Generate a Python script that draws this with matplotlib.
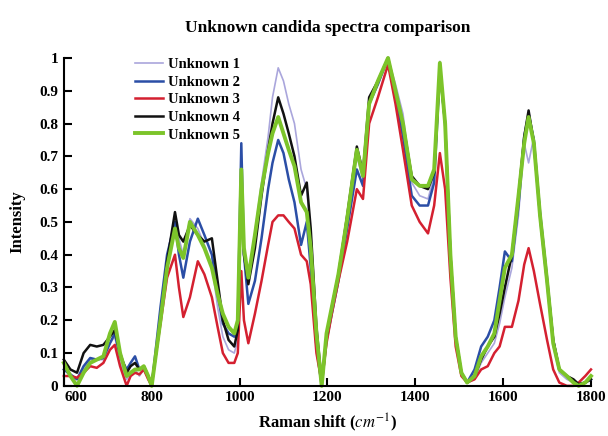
import matplotlib
matplotlib.use('Agg')
import matplotlib.pyplot as plt
import matplotlib.transforms as mtransforms

plt.rcParams['font.family'] = ['Liberation Serif', 'DejaVu Serif']
plt.rcParams['mathtext.fontset'] = 'stix'

# Raman shift (cm-1)
shift = [600, 615, 630, 645, 660, 675, 690, 705, 716, 728,
         743, 752, 762, 772, 782, 792, 800, 810, 820, 835,
         853, 862, 872, 887, 905, 920, 937, 950, 962, 975,
         988, 996, 1004, 1010, 1020, 1035, 1050, 1065, 1075, 1088,
         1100, 1112, 1125, 1140, 1153, 1162, 1175, 1187, 1198, 1210,
         1225, 1245, 1267, 1281, 1295, 1315, 1338, 1355, 1372, 1392,
         1410, 1429, 1443, 1456, 1468, 1480, 1492, 1505, 1518, 1535,
         1550, 1565, 1580, 1592, 1604, 1620, 1635, 1648, 1658, 1670,
         1684, 1700, 1714, 1728, 1745, 1760, 1772, 1787, 1800]

unknown1 = [0.05, 0.03, 0.02, 0.05, 0.08, 0.08, 0.08, 0.13, 0.15, 0.07,
            0.02, 0.04, 0.05, 0.03, 0.05, 0.02, 0.0, 0.09, 0.20, 0.37,
            0.50, 0.45, 0.40, 0.51, 0.48, 0.43, 0.37, 0.24, 0.15, 0.11,
            0.10, 0.14, 0.60, 0.40, 0.33, 0.47, 0.62, 0.76, 0.88, 0.97,
            0.93, 0.86, 0.80, 0.66, 0.60, 0.46, 0.18, 0.01, 0.15, 0.24,
            0.34, 0.51, 0.70, 0.63, 0.86, 0.92, 1.0, 0.92, 0.83, 0.62,
            0.58, 0.57, 0.64, 0.99, 0.80, 0.40, 0.15, 0.04, 0.01, 0.02,
            0.07, 0.10, 0.13, 0.19, 0.27, 0.36, 0.52, 0.74, 0.68, 0.76,
            0.50, 0.30, 0.12, 0.04, 0.02, 0.01, 0.0, 0.01, 0.03]

unknown2 = [0.05, 0.035, 0.02, 0.06, 0.085, 0.08, 0.085, 0.13, 0.16, 0.09,
            0.05, 0.07, 0.09, 0.05, 0.06, 0.03, 0.0, 0.12, 0.24, 0.40,
            0.50, 0.40, 0.33, 0.44, 0.51, 0.46, 0.40, 0.28, 0.19, 0.16,
            0.15, 0.20, 0.74, 0.40, 0.25, 0.32, 0.45, 0.60, 0.68, 0.75,
            0.71, 0.63, 0.56, 0.43, 0.50, 0.36, 0.12, 0.0, 0.14, 0.22,
            0.32, 0.48, 0.66, 0.61, 0.86, 0.92, 1.0, 0.88, 0.76, 0.58,
            0.55, 0.55, 0.62, 0.96, 0.80, 0.40, 0.15, 0.04, 0.01, 0.05,
            0.12, 0.15, 0.20, 0.30, 0.41, 0.38, 0.55, 0.76, 0.83, 0.75,
            0.53, 0.33, 0.14, 0.05, 0.03, 0.015, 0.005, 0.01, 0.02]

unknown3 = [0.03, 0.03, 0.025, 0.04, 0.06, 0.055, 0.07, 0.11, 0.125, 0.06,
            0.0, 0.03, 0.04, 0.035, 0.05, 0.02, 0.0, 0.10, 0.19, 0.33,
            0.40, 0.30, 0.21, 0.27, 0.38, 0.34, 0.27, 0.18, 0.10, 0.07,
            0.07, 0.10, 0.35, 0.20, 0.13, 0.22, 0.32, 0.43, 0.50, 0.52,
            0.52, 0.50, 0.48, 0.40, 0.38, 0.31, 0.10, 0.01, 0.13, 0.22,
            0.32, 0.44, 0.60, 0.57, 0.80, 0.88, 0.98, 0.86, 0.72, 0.55,
            0.50, 0.465, 0.55, 0.71, 0.60, 0.33, 0.12, 0.03, 0.01, 0.02,
            0.05, 0.06, 0.10, 0.12, 0.18, 0.18, 0.26, 0.37, 0.42, 0.35,
            0.25, 0.14, 0.05, 0.01, 0.0, 0.0, 0.01, 0.03, 0.05]

unknown4 = [0.08, 0.05, 0.04, 0.10, 0.125, 0.12, 0.125, 0.15, 0.17, 0.10,
            0.04, 0.06, 0.07, 0.05, 0.06, 0.03, 0.005, 0.10, 0.20, 0.38,
            0.53, 0.46, 0.44, 0.49, 0.46, 0.44, 0.45, 0.32, 0.20, 0.14,
            0.12, 0.17, 0.62, 0.40, 0.31, 0.42, 0.58, 0.72, 0.80, 0.88,
            0.83, 0.77, 0.70, 0.58, 0.62, 0.48, 0.18, 0.01, 0.15, 0.24,
            0.34, 0.52, 0.73, 0.65, 0.88, 0.93, 1.0, 0.90, 0.80, 0.64,
            0.61, 0.60, 0.65, 0.97, 0.80, 0.40, 0.15, 0.04, 0.01, 0.03,
            0.08, 0.12, 0.15, 0.22, 0.30, 0.40, 0.58, 0.76, 0.84, 0.74,
            0.52, 0.32, 0.14, 0.05, 0.03, 0.02, 0.005, 0.01, 0.02]

unknown5 = [0.07, 0.03, 0.0, 0.04, 0.07, 0.08, 0.09, 0.16, 0.195, 0.10,
            0.03, 0.04, 0.05, 0.05, 0.06, 0.03, 0.0, 0.10, 0.20, 0.36,
            0.48, 0.42, 0.39, 0.50, 0.46, 0.42, 0.36, 0.28, 0.22, 0.18,
            0.16, 0.20, 0.66, 0.42, 0.33, 0.46, 0.60, 0.71, 0.77, 0.82,
            0.77, 0.72, 0.67, 0.56, 0.53, 0.42, 0.16, 0.0, 0.16, 0.24,
            0.34, 0.51, 0.72, 0.64, 0.86, 0.93, 1.0, 0.90, 0.80, 0.63,
            0.61, 0.61, 0.66, 0.985, 0.80, 0.40, 0.15, 0.04, 0.01, 0.03,
            0.09, 0.12, 0.16, 0.26, 0.36, 0.40, 0.58, 0.74, 0.82, 0.74,
            0.52, 0.32, 0.13, 0.05, 0.03, 0.01, 0.0, 0.01, 0.03]

labels = ['Unknown 1', 'Unknown 2', 'Unknown 3', 'Unknown 4', 'Unknown 5']
series = [unknown1, unknown2, unknown3, unknown4, unknown5]
colors = ['#aaa6dc', '#2b4ea6', '#d42030', '#111111', '#7cc42a']
widths = [1.2, 1.8, 1.8, 1.8, 2.8]

fig = plt.figure(figsize=(6.08, 4.36), dpi=100)
ax = fig.add_axes([0.105, 0.115, 0.867, 0.752])

for ys, lab, c, w in zip(series, labels, colors, widths):
    ax.plot(shift, ys, color=c, lw=w, label=lab, clip_on=False)

ax.set_xlim(600, 1800)
ax.set_ylim(0, 1.0)
ax.set_xticks(range(600, 1801, 200))
yt = [i / 10 for i in range(11)]
ax.set_yticks(yt)
ax.set_yticklabels(['0'] + ['%.1f' % v for v in yt[1:-1]] + ['1'])
for s in ['top', 'right']:
    ax.spines[s].set_visible(False)
for s in ['left', 'bottom']:
    ax.spines[s].set_linewidth(1.5)
ax.tick_params(direction='in', length=6, width=1.5, labelsize=11, pad=4)
for t in ax.get_xticklabels() + ax.get_yticklabels():
    t.set_fontweight('bold')

# nudge the first x label right so it clears the "0"
first = ax.get_xticklabels()[0]
first.set_transform(first.get_transform() +
                    mtransforms.ScaledTranslation(9 / 72, 0, fig.dpi_scale_trans))

ax.set_title('Unknown candida spectra comparison', fontsize=12.5, fontweight='bold', pad=19)
ax.set_xlabel(r'Raman shift ($cm^{-1}$)', fontsize=12, fontweight='bold', labelpad=5)
ax.set_ylabel('Intensity', fontsize=12, fontweight='bold', labelpad=10)

leg = ax.legend(loc='upper left', bbox_to_anchor=(0.11, 1.04), frameon=False,
                handlelength=1.9, handletextpad=0.4, labelspacing=0.3,
                prop={'weight': 'bold', 'size': 10.5})

plt.savefig('out.png', dpi=100)
